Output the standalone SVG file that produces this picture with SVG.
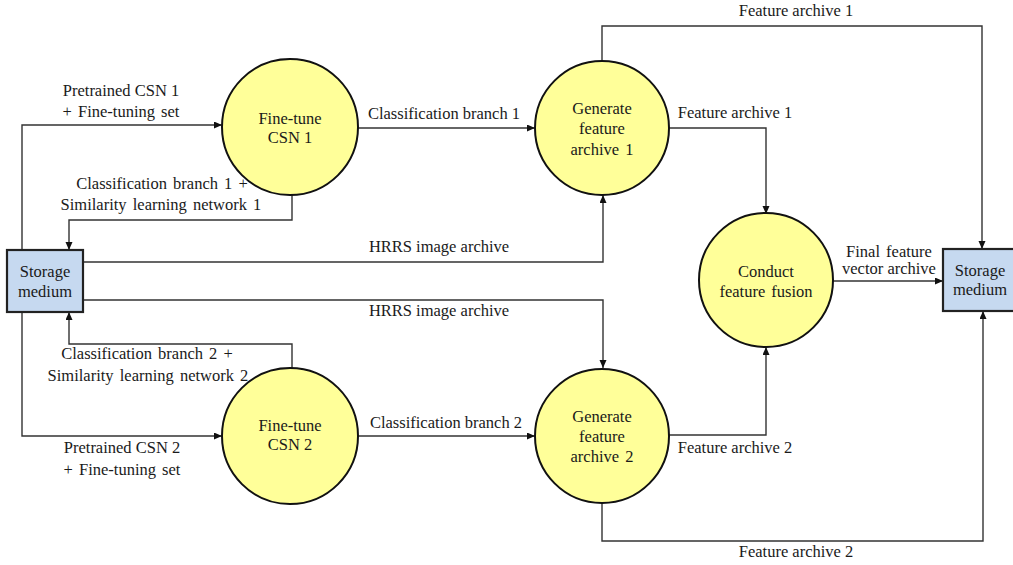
<svg xmlns="http://www.w3.org/2000/svg" width="1013" height="565" viewBox="0 0 1013 565">
  <style>
    text { font-family: "Liberation Serif", "Times New Roman", serif; font-size: 16.5px; fill: #1a1a1a; text-anchor: middle; }
    .proc { fill: #ffff99; stroke: #111; stroke-width: 2; }
    .store { fill: #c6d9f0; stroke: #222; stroke-width: 2.2; }
    .flow { fill: none; stroke: #333; stroke-width: 1.4; }
    .ws { word-spacing: 2px; }
  </style>
  <defs>
    <marker id="arrow" markerUnits="userSpaceOnUse" markerWidth="9" markerHeight="8" refX="8" refY="3.5" orient="auto">
      <path d="M0,0 L8,3.5 L0,7 z" fill="#111"/>
    </marker>
  </defs>
  <rect width="1013" height="565" fill="#fff"/>

  <!-- connectors -->
  <g id="connectors">
    <path class="flow" d="M22,250 V125 H222" marker-end="url(#arrow)"/>
    <path class="flow" d="M292,194 V220 H69 V250" marker-end="url(#arrow)"/>
    <path class="flow" d="M83,262 H603 V195" marker-end="url(#arrow)"/>
    <path class="flow" d="M83,300 H603 V368" marker-end="url(#arrow)"/>
    <path class="flow" d="M22,312 V436 H222" marker-end="url(#arrow)"/>
    <path class="flow" d="M292,370 V344 H69 V312" marker-end="url(#arrow)"/>
    <path class="flow" d="M358,128 H535" marker-end="url(#arrow)"/>
    <path class="flow" d="M358,436 H535" marker-end="url(#arrow)"/>
    <path class="flow" d="M602,61 V26 H982 V249" marker-end="url(#arrow)"/>
    <path class="flow" d="M669,128 H766 V214" marker-end="url(#arrow)"/>
    <path class="flow" d="M833,281 H943" marker-end="url(#arrow)"/>
    <path class="flow" d="M669,435 H766 V347" marker-end="url(#arrow)"/>
    <path class="flow" d="M602,503 V541 H983 V311" marker-end="url(#arrow)"/>

    <text x="121" y="96">Pretrained CSN 1</text>
    <text x="121" y="117" class="ws">+ Fine-tuning set</text>
    <text x="162" y="189" class="ws">Classification branch 1 +</text>
    <text x="161" y="210" class="ws">Similarity learning network 1</text>
    <text x="439" y="252">HRRS image archive</text>
    <text x="439" y="316">HRRS image archive</text>
    <text x="147" y="359" class="ws">Classification branch 2 +</text>
    <text x="148" y="381" class="ws">Similarity learning network 2</text>
    <text x="122" y="453">Pretrained CSN 2</text>
    <text x="122" y="475" class="ws">+ Fine-tuning set</text>
    <text x="444" y="119">Classification branch 1</text>
    <text x="446" y="428">Classification branch 2</text>
    <text x="735" y="118">Feature archive 1</text>
    <text x="796" y="16">Feature archive 1</text>
    <text x="889" y="257" class="ws">Final feature</text>
    <text x="889" y="274">vector archive</text>
    <text x="735" y="453">Feature archive 2</text>
    <text x="796" y="557">Feature archive 2</text>
  </g>

  <!-- storage (left) -->
  <g id="storage-left">
    <rect class="store" x="7" y="250" width="76" height="62"/>
    <text x="45" y="277">Storage</text>
    <text x="45" y="297">medium</text>
  </g>

  <!-- storage (right) -->
  <g id="storage-right">
    <rect class="store" x="943" y="249" width="74" height="62"/>
    <text x="980" y="276">Storage</text>
    <text x="980" y="295">medium</text>
  </g>

  <g id="finetune-1">
    <circle class="proc" cx="290" cy="127" r="68"/>
    <text x="290" y="124">Fine-tune</text>
    <text x="290" y="143">CSN 1</text>
  </g>

  <g id="finetune-2">
    <circle class="proc" cx="290" cy="436" r="68"/>
    <text x="290" y="431">Fine-tune</text>
    <text x="290" y="450">CSN 2</text>
  </g>

  <g id="generate-1">
    <circle class="proc" cx="602" cy="128" r="67"/>
    <text x="602" y="114">Generate</text>
    <text x="602" y="134">feature</text>
    <text x="602" y="155" class="ws">archive 1</text>
  </g>

  <g id="generate-2">
    <circle class="proc" cx="602" cy="436" r="67"/>
    <text x="602" y="422">Generate</text>
    <text x="602" y="442">feature</text>
    <text x="602" y="462" class="ws">archive 2</text>
  </g>

  <g id="fusion">
    <circle class="proc" cx="766" cy="280" r="67"/>
    <text x="766" y="277">Conduct</text>
    <text x="766" y="297" class="ws">feature fusion</text>
  </g>
</svg>
